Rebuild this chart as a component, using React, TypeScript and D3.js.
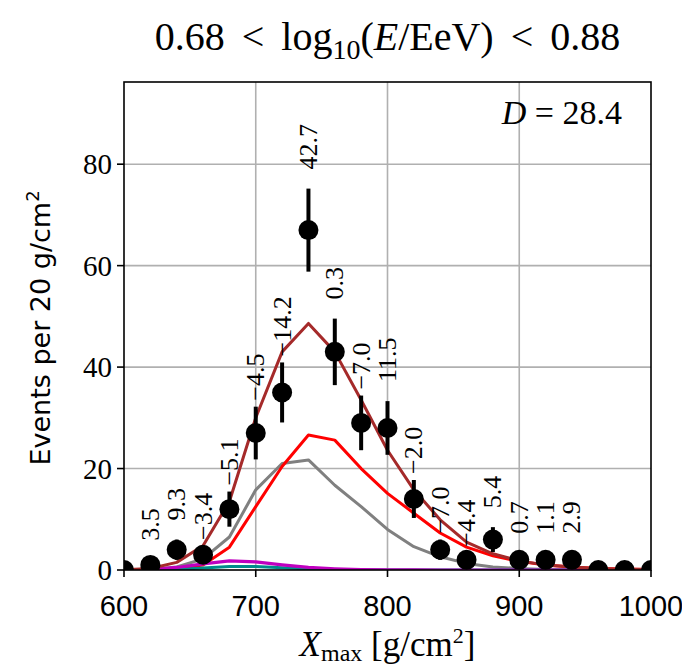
import React from 'react';
import * as d3 from 'd3';

// ---- data ----
const xBins = [600, 620, 640, 660, 680, 700, 720, 740, 760, 780, 800, 820, 840, 860, 880, 900, 920, 940, 960, 980, 1000];
const counts = [0, 1, 4, 3, 12, 27, 35, 67, 43, 29, 28, 14, 4, 2, 6, 2, 2, 2, 0, 0, 0];
const deviationLabels = ['', '3.5', '9.3', '−3.4', '−5.1', '−4.5', '−14.2', '42.7', '0.3', '−7.0', '11.5', '−2.0', '−7.0', '−4.4', '5.4', '0.7', '1.1', '2.9', '', '', ''];
const totalModel = [0.05, 0.3, 1.5, 4.8, 13.5, 30, 43, 48.6, 43, 33.5, 23.6, 15.8, 9.9, 5.5, 3.2, 1.8, 1.0, 0.6, 0.3, 0.15, 0.1];
const lightModel = [0, 0.05, 0.3, 1.0, 4.5, 12.5, 20.4, 26.6, 25.6, 20.0, 15.1, 11.2, 7.3, 4.5, 2.8, 1.7, 1.0, 0.6, 0.3, 0.2, 0.1];
const heliumModel = [0, 0.1, 0.6, 2.2, 6.5, 15.8, 21.0, 21.7, 16.7, 12.5, 8.0, 4.6, 2.6, 1.3, 0.6, 0.3, 0.1, 0.05, 0, 0, 0];
const nitrogenModel = [0, 0.1, 0.5, 1.2, 1.8, 1.6, 1.0, 0.5, 0.25, 0.1, 0.05, 0.02, 0, 0, 0, 0, 0, 0, 0, 0, 0];
const ironModel = [0, 0.02, 0.1, 0.4, 0.7, 0.7, 0.45, 0.2, 0.1, 0.04, 0, 0, 0, 0, 0, 0, 0, 0, 0, 0, 0];
const xTicks = [600, 700, 800, 900, 1000];
const yTicks = [0, 20, 40, 60, 80];
const xDomain = [600, 1000];
const yDomain = [0, 96.2];

const W = 682, H = 669;
const L = 124, R = 651, T = 82, B = 570;
const SERIF = '"Liberation Serif", "DejaVu Serif", serif';
const SANS = '"DejaVu Sans", "Liberation Sans", sans-serif';
const SANS2 = '"Liberation Sans", "DejaVu Sans", sans-serif';

export default function App() {
  const x = d3.scaleLinear().domain(xDomain).range([L, R]);
  const y = d3.scaleLinear().domain(yDomain).range([B, T]);
  const mkLine = (vals: number[]) =>
    d3.line<number>().x((_, i) => x(xBins[i])).y((d) => y(d))(vals) as string;

  const curves = [
    { vals: heliumModel, color: '#808080', w: 3 },
    { vals: lightModel, color: '#ff0000', w: 3 },
    { vals: ironModel, color: '#008b8b', w: 3 },
    { vals: nitrogenModel, color: '#bf00bf', w: 3.2 },
    { vals: totalModel, color: '#a52a2a', w: 3 },
  ];

  return (
    <svg width={W} height={H} style={{ position: 'absolute', left: 0, top: 0, background: '#fff' }}>
      <defs>
        <clipPath id="plotclip">
          <rect x={L} y={T} width={R - L} height={B - T} />
        </clipPath>
      </defs>
      {/* title */}
      <text x={(L + R) / 2} y={50} textAnchor="middle" fontFamily={SERIF} fontSize={40} wordSpacing={7} fill="#000">
        <tspan>0.68 &lt; log</tspan>
        <tspan fontSize={28} dy={9}>10</tspan>
        <tspan dy={-9}>(</tspan>
        <tspan fontStyle="italic">E</tspan>
        <tspan>/EeV) &lt; 0.88</tspan>
      </text>

      {/* grid */}
      {xTicks.filter((t) => t > xDomain[0] && t < xDomain[1]).map((t) => (
        <line key={'gx' + t} x1={x(t)} x2={x(t)} y1={T} y2={B} stroke="#b0b0b0" strokeWidth={1.6} />
      ))}
      {yTicks.filter((t) => t > 0).map((t) => (
        <line key={'gy' + t} x1={L} x2={R} y1={y(t)} y2={y(t)} stroke="#b0b0b0" strokeWidth={1.6} />
      ))}

      {/* curves */}
      <g clipPath="url(#plotclip)">
        {curves.map((c, i) => (
          <path key={i} d={mkLine(c.vals)} fill="none" stroke={c.color} strokeWidth={c.w} strokeLinejoin="round" />
        ))}
        {/* error bars */}
        {counts.map((n, i) =>
          n > 0 ? (
            <line key={'e' + i} x1={x(xBins[i])} x2={x(xBins[i])} y1={y(n - Math.sqrt(n))} y2={y(n + Math.sqrt(n))} stroke="#000" strokeWidth={4} />
          ) : null
        )}
        {counts.map((n, i) => (
          <circle key={'p' + i} cx={x(xBins[i])} cy={y(n)} r={10} fill="#000" />
        ))}
      </g>

      {/* deviation labels */}
      {counts.map((n, i) => {
        const lab = deviationLabels[i];
        if (!lab) return null;
        const txt = lab.startsWith('−') ? lab : '\u2007' + lab;
        return (
          <text key={'l' + i} transform={`translate(${x(xBins[i])},${y(n + Math.sqrt(n)) - 6}) rotate(-90)`}
            textAnchor="start" dominantBaseline="central" fontFamily={SERIF} fontSize={26} fill="#000">
            {txt}
          </text>
        );
      })}

      {/* D label */}
      <text x={622} y={124} textAnchor="end" fontFamily={SERIF} fontSize={34} fill="#000">
        <tspan fontStyle="italic">D</tspan>
        <tspan> = 28.4</tspan>
      </text>

      {/* frame */}
      <rect x={L} y={T} width={R - L} height={B - T} fill="none" stroke="#000" strokeWidth={1.6} />

      {/* ticks */}
      {xTicks.map((t) => (
        <g key={'xt' + t}>
          <line x1={x(t)} x2={x(t)} y1={B} y2={B + 7} stroke="#000" strokeWidth={1.6} />
          <text x={x(t)} y={B + 46} textAnchor="middle" fontFamily={SANS2} fontSize={29} fill="#000">{t}</text>
        </g>
      ))}
      {yTicks.map((t) => (
        <g key={'yt' + t}>
          <line x1={L - 7} x2={L} y1={y(t)} y2={y(t)} stroke="#000" strokeWidth={1.6} />
          <text x={L - 12} y={y(t)} textAnchor="end" dominantBaseline="central" fontFamily={SERIF} fontSize={29} fill="#000">{t}</text>
        </g>
      ))}

      {/* axis labels */}
      <text x={(L + R) / 2} y={656} textAnchor="middle" fontFamily={SERIF} fontSize={35} fill="#000">
        <tspan fontStyle="italic">X</tspan>
        <tspan fontSize={24} dy={5}>max</tspan>
        <tspan dy={-5}> [g/cm</tspan>
        <tspan fontSize={22} dy={-13}>2</tspan>
        <tspan dy={13}>]</tspan>
      </text>
      <text transform={`translate(50,${(T + B) / 2 + 2}) rotate(-90)`} textAnchor="middle" fontFamily={SANS} fontSize={27} fill="#000">
        <tspan>Events per 20 g/cm</tspan>
        <tspan fontSize={18} dy={-11}>2</tspan>
      </text>
    </svg>
  );
}
